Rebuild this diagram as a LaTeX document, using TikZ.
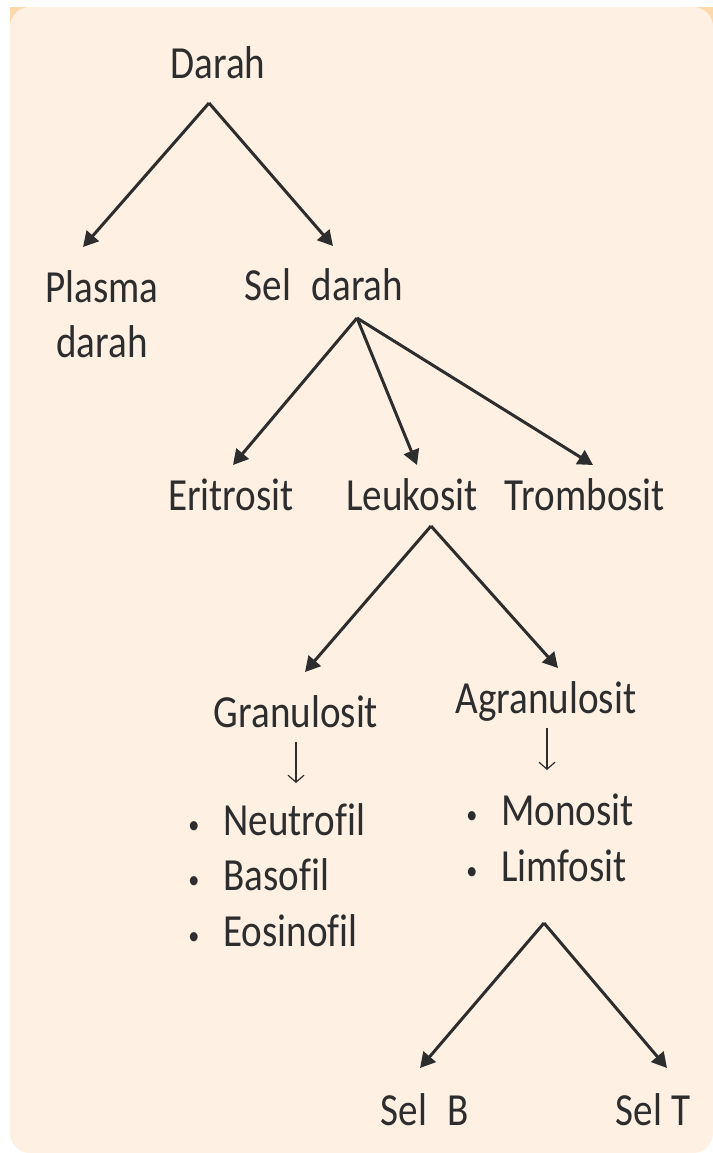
\documentclass[tikz,border=0pt]{standalone}
\usepackage{fontspec}
\setmainfont{Carlito}[FakeStretch=0.85, Ligatures=NoCommon]
\usetikzlibrary{arrows.meta}
\definecolor{peach}{RGB}{254,241,228}
\definecolor{tab}{RGB}{253,216,172}
\definecolor{ink}{RGB}{45,45,45}
\tikzset{
	lbl/.style={anchor=base, inner sep=0pt, text=ink, font=\fontsize{23}{27.5}\selectfont},
	itm/.style={lbl, anchor=base west},
	branch/.style={draw=ink, line width=1.5pt, -{Triangle[length=7.5pt,width=8pt]}},
	down/.style={draw=ink, line width=0.6pt, -{Straight Barb[length=3.5pt,width=8pt]}}
}
\newcommand{\blt}{\makebox[17.5pt][l]{\raisebox{1pt}{\fontsize{13}{13}\selectfont\textbullet}}}
\begin{document}
\begin{tikzpicture}[x=0.5pt, y=-0.5pt]
			\useasboundingbox (0,0) rectangle (713,1153);
			\fill [tab] (10,7) rectangle (713,50);
			\fill [peach, rounded corners=10pt] (10,7) rectangle (713,1153);

			\node (darah) [lbl] at (218,78) {Darah};
			\node (plasma) [lbl, anchor=north, align=center] at (102,270) {Plasma\\darah};
			\node (seldarah) [lbl] at (324,300) {Sel\hspace{0.45em}darah};
			\node (eritrosit) [lbl] at (231,510) {Eritrosit};
			\node (leukosit) [lbl] at (412,510) {Leukosit};
			\node (trombosit) [lbl] at (585,510) {Trombosit};
			\node (granulosit) [lbl] at (296,727) {Granulosit};
			\node (agranulosit) [lbl] at (546,713) {Agranulosit};
			\node (neutrofil) [itm] at (188,835) {\blt Neutrofil};
			\node (basofil) [itm] at (188,890) {\blt Basofil};
			\node (eosinofil) [itm] at (188,946) {\blt Eosinofil};
			\node (monosit) [itm] at (466,825) {\blt Monosit};
			\node (limfosit) [itm] at (466,881) {\blt Limfosit};
			\node (selb) [lbl] at (425,1125) {Sel\hspace{0.45em}B};
			\node (selt) [lbl] at (653,1125) {Sel T};

			\coordinate (darahFork) at (209,103);
			\coordinate (plasmaIn) at (83,247);
			\coordinate (seldarahIn) at (333,246);
			\coordinate (selFork) at (357,318);
			\coordinate (eritrositIn) at (233,465);
			\coordinate (leukositIn) at (417,465);
			\coordinate (trombositIn) at (593,465);
			\coordinate (leukFork) at (431,526);
			\coordinate (granIn) at (305,672);
			\coordinate (agranIn) at (558,668);
			\coordinate (limfFork) at (544,923);
			\coordinate (selbIn) at (420,1068);
			\coordinate (seltIn) at (667,1068);
			\coordinate (granOut) at (296,742);
			\coordinate (granList) at (296,783);
			\coordinate (agranOut) at (547,728);
			\coordinate (agranList) at (547,770);

			\draw [branch] (darahFork) -- (plasmaIn);
			\draw [branch] (darahFork) -- (seldarahIn);
			\foreach \t in {eritrositIn, leukositIn, trombositIn}
				\draw [branch] (selFork) -- (\t);
			\draw [branch] (leukFork) -- (granIn);
			\draw [branch] (leukFork) -- (agranIn);
			\draw [branch] (limfFork) -- (selbIn);
			\draw [branch] (limfFork) -- (seltIn);
			\draw [down] (granOut) -- (granList);
			\draw [down] (agranOut) -- (agranList);
		\end{tikzpicture}
\end{document}
